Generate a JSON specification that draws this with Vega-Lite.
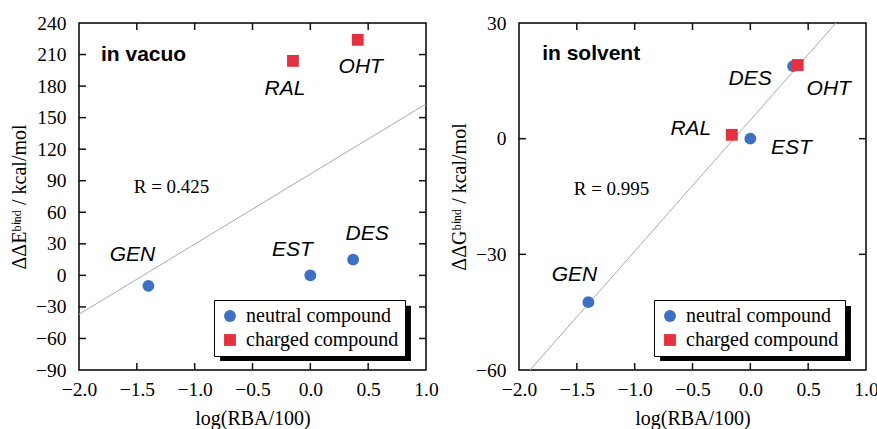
{
  "$schema": "https://vega.github.io/schema/vega-lite/v6.json",
  "padding": {"left": 8, "top": 12, "right": 0, "bottom": 0},
  "spacing": 9,
  "datasets": {
    "vacuo": [
      {"compound": "GEN", "logRBA": -1.4, "value": -10, "type": "neutral compound"},
      {"compound": "EST", "logRBA": 0.0, "value": 0, "type": "neutral compound"},
      {"compound": "DES", "logRBA": 0.37, "value": 15, "type": "neutral compound"},
      {"compound": "RAL", "logRBA": -0.15, "value": 204, "type": "charged compound"},
      {"compound": "OHT", "logRBA": 0.41, "value": 224, "type": "charged compound"}
    ],
    "solvent": [
      {"compound": "GEN", "logRBA": -1.4, "value": -42.4, "type": "neutral compound"},
      {"compound": "EST", "logRBA": 0.0, "value": 0, "type": "neutral compound"},
      {"compound": "DES", "logRBA": 0.37, "value": 18.8, "type": "neutral compound"},
      {"compound": "RAL", "logRBA": -0.16, "value": 1, "type": "charged compound"},
      {"compound": "OHT", "logRBA": 0.41, "value": 19.1, "type": "charged compound"}
    ],
    "vacuo_fit": [{"logRBA": -2.0, "value": -37}, {"logRBA": 1.0, "value": 163}],
    "solvent_fit": [{"logRBA": -1.905, "value": -60}, {"logRBA": 0.74, "value": 30}],
    "vacuo_notes": [{"title": "in vacuo", "r": "R = 0.425"}],
    "solvent_notes": [{"title": "in solvent", "r": "R = 0.995"}],
    "x_ticks": [{"v": -1.5}, {"v": -1.0}, {"v": -0.5}, {"v": 0.0}, {"v": 0.5}],
    "vacuo_y_ticks": [{"v": -60}, {"v": -30}, {"v": 0}, {"v": 30}, {"v": 60}, {"v": 90}, {"v": 120}, {"v": 150}, {"v": 180}, {"v": 210}],
    "solvent_y_ticks": [{"v": -30}, {"v": 0}]
  },
  "config": {
    "view": {"stroke": "#000000", "strokeWidth": 1.5},
    "axis": {
      "domain": false,
      "ticks": false,
      "grid": false,
      "labelFlush": false,
      "labelFont": "Liberation Serif",
      "labelFontSize": 19.5,
      "labelColor": "#000000",
      "titleFont": "Liberation Serif",
      "titleFontSize": 20,
      "titleFontWeight": "normal",
      "titleColor": "#000000"
    },
    "tick": {"color": "#111111", "thickness": 1.5, "size": 7, "opacity": 1},
    "legend": {
      "orient": "none",
      "legendX": 135,
      "legendY": 277,
      "title": null,
      "fillColor": "#ffffff",
      "strokeColor": "#000000",
      "padding": 6,
      "labelFont": "Liberation Serif",
      "labelFontSize": 20,
      "labelColor": "#000000",
      "symbolSize": 140,
      "symbolStrokeWidth": 0,
      "symbolOffset": 0,
      "rowPadding": 4,
      "labelOffset": 6,
      "zindex": 2
    }
  },
  "hconcat": [
    {
      "width": 347,
      "height": 347,
      "resolve": {"axis": {"x": "independent", "y": "independent"}},
      "layer": [
        {
          "data": {"name": "vacuo_fit"},
          "mark": {"type": "line", "color": "#aaaaaa", "strokeWidth": 1, "clip": true},
          "encoding": {
            "x": {"field": "logRBA", "type": "quantitative", "scale": {"domain": [-2, 1], "nice": false},
                  "axis": {"orient": "bottom", "values": [-2, -1.5, -1, -0.5, 0, 0.5, 1], "format": ".1f", "title": "log(RBA/100)", "labelPadding": 10, "titlePadding": 10}},
            "y": {"field": "value", "type": "quantitative", "scale": {"domain": [-90, 240], "nice": false, "zero": false},
                  "axis": {"orient": "left", "values": [-90, -60, -30, 0, 30, 60, 90, 120, 150, 180, 210, 240], "title": "ΔΔEᵇⁱⁿᵈ / kcal/mol", "labelPadding": 13, "titlePadding": 6}}
          }
        },
        {
          "data": {"name": "x_ticks"},
          "mark": {"type": "tick", "orient": "vertical", "yOffset": -3.5},
          "encoding": {"x": {"field": "v", "type": "quantitative", "axis": null}, "y": {"datum": -90, "type": "quantitative", "axis": null}}
        },
        {
          "data": {"name": "x_ticks"},
          "mark": {"type": "tick", "orient": "vertical", "yOffset": 3.5},
          "encoding": {"x": {"field": "v", "type": "quantitative", "axis": null}, "y": {"datum": 240, "type": "quantitative", "axis": null}}
        },
        {
          "data": {"name": "vacuo_y_ticks"},
          "mark": {"type": "tick", "orient": "horizontal", "xOffset": 3.5},
          "encoding": {"y": {"field": "v", "type": "quantitative", "axis": null}, "x": {"datum": -2, "type": "quantitative", "axis": null}}
        },
        {
          "data": {"name": "vacuo_y_ticks"},
          "mark": {"type": "tick", "orient": "horizontal", "xOffset": -3.5},
          "encoding": {"y": {"field": "v", "type": "quantitative", "axis": null}, "x": {"datum": 1, "type": "quantitative", "axis": null}}
        },
        {
          "data": {"name": "vacuo_notes"},
          "mark": {"type": "rect", "color": "#000000"},
          "encoding": {"x": {"datum": -0.78, "type": "quantitative", "axis": null}, "x2": {"datum": 0.87}, "y": {"datum": -29, "type": "quantitative", "axis": null}, "y2": {"datum": -81.4}}
        },
        {
          "data": {"name": "vacuo"},
          "mark": {"type": "point", "filled": true, "opacity": 1, "size": 140},
          "encoding": {
            "x": {"field": "logRBA", "type": "quantitative", "axis": null},
            "y": {"field": "value", "type": "quantitative", "axis": null},
            "color": {"field": "type", "type": "nominal",
                      "scale": {"domain": ["neutral compound", "charged compound"], "range": ["#3d6fc3", "#e5303f"]}},
            "shape": {"field": "type", "type": "nominal",
                      "scale": {"domain": ["neutral compound", "charged compound"], "range": ["circle", "square"]}}
          }
        },
        {
          "data": {"name": "vacuo"},
          "transform": [{"filter": "datum.compound === 'GEN'"}],
          "mark": {"type": "text", "font": "Liberation Sans", "fontStyle": "italic", "fontSize": 21, "dx": -16, "dy": -31},
          "encoding": {"x": {"field": "logRBA", "type": "quantitative", "axis": null}, "y": {"field": "value", "type": "quantitative", "axis": null}, "text": {"field": "compound"}}
        },
        {
          "data": {"name": "vacuo"},
          "transform": [{"filter": "datum.compound === 'EST'"}],
          "mark": {"type": "text", "font": "Liberation Sans", "fontStyle": "italic", "fontSize": 21, "dx": -18, "dy": -25},
          "encoding": {"x": {"field": "logRBA", "type": "quantitative", "axis": null}, "y": {"field": "value", "type": "quantitative", "axis": null}, "text": {"field": "compound"}}
        },
        {
          "data": {"name": "vacuo"},
          "transform": [{"filter": "datum.compound === 'DES'"}],
          "mark": {"type": "text", "font": "Liberation Sans", "fontStyle": "italic", "fontSize": 21, "dx": 14, "dy": -26},
          "encoding": {"x": {"field": "logRBA", "type": "quantitative", "axis": null}, "y": {"field": "value", "type": "quantitative", "axis": null}, "text": {"field": "compound"}}
        },
        {
          "data": {"name": "vacuo"},
          "transform": [{"filter": "datum.compound === 'RAL'"}],
          "mark": {"type": "text", "font": "Liberation Sans", "fontStyle": "italic", "fontSize": 21, "dx": -8, "dy": 28},
          "encoding": {"x": {"field": "logRBA", "type": "quantitative", "axis": null}, "y": {"field": "value", "type": "quantitative", "axis": null}, "text": {"field": "compound"}}
        },
        {
          "data": {"name": "vacuo"},
          "transform": [{"filter": "datum.compound === 'OHT'"}],
          "mark": {"type": "text", "font": "Liberation Sans", "fontStyle": "italic", "fontSize": 21, "dx": 3, "dy": 27},
          "encoding": {"x": {"field": "logRBA", "type": "quantitative", "axis": null}, "y": {"field": "value", "type": "quantitative", "axis": null}, "text": {"field": "compound"}}
        },
        {
          "data": {"name": "vacuo_notes"},
          "mark": {"type": "text", "font": "Liberation Sans", "fontWeight": "bold", "fontSize": 21, "align": "left"},
          "encoding": {"x": {"datum": -1.81, "type": "quantitative", "axis": null}, "y": {"datum": 210, "type": "quantitative", "axis": null}, "text": {"field": "title"}}
        },
        {
          "data": {"name": "vacuo_notes"},
          "mark": {"type": "text", "font": "Liberation Serif", "fontSize": 19},
          "encoding": {"x": {"datum": -1.2, "type": "quantitative", "axis": null}, "y": {"datum": 84, "type": "quantitative", "axis": null}, "text": {"field": "r"}}
        }
      ]
    },
    {
      "width": 347,
      "height": 347,
      "resolve": {"axis": {"x": "independent", "y": "independent"}},
      "layer": [
        {
          "data": {"name": "solvent_fit"},
          "mark": {"type": "line", "color": "#aaaaaa", "strokeWidth": 1, "clip": true},
          "encoding": {
            "x": {"field": "logRBA", "type": "quantitative", "scale": {"domain": [-2, 1], "nice": false},
                  "axis": {"orient": "bottom", "values": [-2, -1.5, -1, -0.5, 0, 0.5, 1], "format": ".1f", "title": "log(RBA/100)", "labelPadding": 10, "titlePadding": 10}},
            "y": {"field": "value", "type": "quantitative", "scale": {"domain": [-60, 30], "nice": false, "zero": false},
                  "axis": {"orient": "left", "values": [-60, -30, 0, 30], "title": "ΔΔGᵇⁱⁿᵈ / kcal/mol", "labelPadding": 13, "titlePadding": 6}}
          }
        },
        {
          "data": {"name": "x_ticks"},
          "mark": {"type": "tick", "orient": "vertical", "yOffset": -3.5},
          "encoding": {"x": {"field": "v", "type": "quantitative", "axis": null}, "y": {"datum": -60, "type": "quantitative", "axis": null}}
        },
        {
          "data": {"name": "x_ticks"},
          "mark": {"type": "tick", "orient": "vertical", "yOffset": 3.5},
          "encoding": {"x": {"field": "v", "type": "quantitative", "axis": null}, "y": {"datum": 30, "type": "quantitative", "axis": null}}
        },
        {
          "data": {"name": "solvent_y_ticks"},
          "mark": {"type": "tick", "orient": "horizontal", "xOffset": 3.5},
          "encoding": {"y": {"field": "v", "type": "quantitative", "axis": null}, "x": {"datum": -2, "type": "quantitative", "axis": null}}
        },
        {
          "data": {"name": "solvent_y_ticks"},
          "mark": {"type": "tick", "orient": "horizontal", "xOffset": -3.5},
          "encoding": {"y": {"field": "v", "type": "quantitative", "axis": null}, "x": {"datum": 1, "type": "quantitative", "axis": null}}
        },
        {
          "data": {"name": "solvent_notes"},
          "mark": {"type": "rect", "color": "#000000"},
          "encoding": {"x": {"datum": -0.78, "type": "quantitative", "axis": null}, "x2": {"datum": 0.87}, "y": {"datum": -43.4, "type": "quantitative", "axis": null}, "y2": {"datum": -57.65}}
        },
        {
          "data": {"name": "solvent"},
          "mark": {"type": "point", "filled": true, "opacity": 1, "size": 140},
          "encoding": {
            "x": {"field": "logRBA", "type": "quantitative", "axis": null},
            "y": {"field": "value", "type": "quantitative", "axis": null},
            "color": {"field": "type", "type": "nominal",
                      "scale": {"domain": ["neutral compound", "charged compound"], "range": ["#3d6fc3", "#e5303f"]}},
            "shape": {"field": "type", "type": "nominal",
                      "scale": {"domain": ["neutral compound", "charged compound"], "range": ["circle", "square"]}}
          }
        },
        {
          "data": {"name": "solvent"},
          "transform": [{"filter": "datum.compound === 'GEN'"}],
          "mark": {"type": "text", "font": "Liberation Sans", "fontStyle": "italic", "fontSize": 21, "dx": -14, "dy": -27},
          "encoding": {"x": {"field": "logRBA", "type": "quantitative", "axis": null}, "y": {"field": "value", "type": "quantitative", "axis": null}, "text": {"field": "compound"}}
        },
        {
          "data": {"name": "solvent"},
          "transform": [{"filter": "datum.compound === 'EST'"}],
          "mark": {"type": "text", "font": "Liberation Sans", "fontStyle": "italic", "fontSize": 21, "dx": 41, "dy": 9},
          "encoding": {"x": {"field": "logRBA", "type": "quantitative", "axis": null}, "y": {"field": "value", "type": "quantitative", "axis": null}, "text": {"field": "compound"}}
        },
        {
          "data": {"name": "solvent"},
          "transform": [{"filter": "datum.compound === 'DES'"}],
          "mark": {"type": "text", "font": "Liberation Sans", "fontStyle": "italic", "fontSize": 21, "dx": -43, "dy": 13},
          "encoding": {"x": {"field": "logRBA", "type": "quantitative", "axis": null}, "y": {"field": "value", "type": "quantitative", "axis": null}, "text": {"field": "compound"}}
        },
        {
          "data": {"name": "solvent"},
          "transform": [{"filter": "datum.compound === 'RAL'"}],
          "mark": {"type": "text", "font": "Liberation Sans", "fontStyle": "italic", "fontSize": 21, "dx": -41, "dy": -6},
          "encoding": {"x": {"field": "logRBA", "type": "quantitative", "axis": null}, "y": {"field": "value", "type": "quantitative", "axis": null}, "text": {"field": "compound"}}
        },
        {
          "data": {"name": "solvent"},
          "transform": [{"filter": "datum.compound === 'OHT'"}],
          "mark": {"type": "text", "font": "Liberation Sans", "fontStyle": "italic", "fontSize": 21, "dx": 31, "dy": 24},
          "encoding": {"x": {"field": "logRBA", "type": "quantitative", "axis": null}, "y": {"field": "value", "type": "quantitative", "axis": null}, "text": {"field": "compound"}}
        },
        {
          "data": {"name": "solvent_notes"},
          "mark": {"type": "text", "font": "Liberation Sans", "fontWeight": "bold", "fontSize": 21, "align": "left"},
          "encoding": {"x": {"datum": -1.8, "type": "quantitative", "axis": null}, "y": {"datum": 21.9, "type": "quantitative", "axis": null}, "text": {"field": "title"}}
        },
        {
          "data": {"name": "solvent_notes"},
          "mark": {"type": "text", "font": "Liberation Serif", "fontSize": 19},
          "encoding": {"x": {"datum": -1.2, "type": "quantitative", "axis": null}, "y": {"datum": -13, "type": "quantitative", "axis": null}, "text": {"field": "r"}}
        }
      ]
    }
  ],
  "resolve": {"legend": {"color": "independent", "shape": "independent"}}
}
